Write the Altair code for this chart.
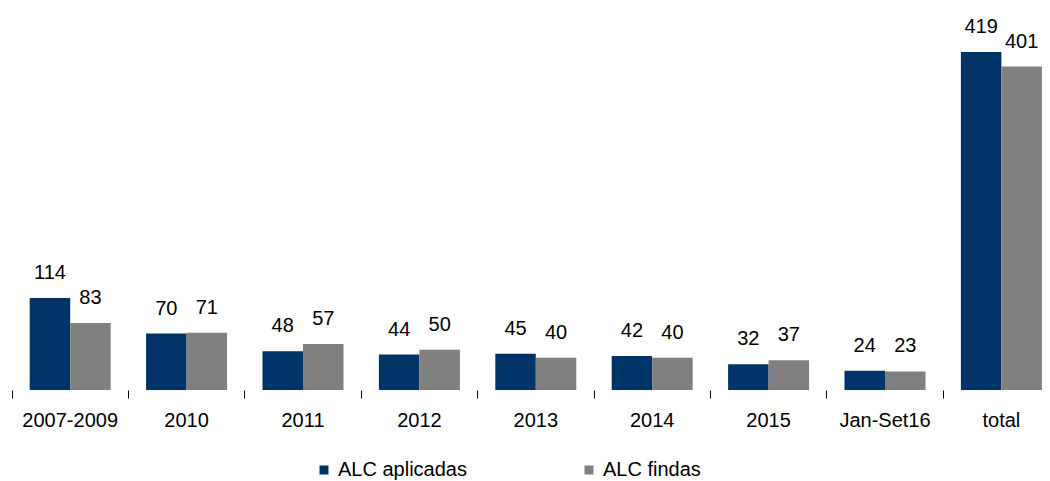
import altair as alt
import pandas as pd

categories = ["2007-2009", "2010", "2011", "2012", "2013", "2014", "2015", "Jan-Set16", "total"]
series_names = ["ALC aplicadas", "ALC findas"]
aplicadas = [114, 70, 48, 44, 45, 42, 32, 24, 419]
findas = [83, 71, 57, 50, 40, 40, 37, 23, 401]
colors = ["#003366", "#808080"]

rows = []
for c, a, f in zip(categories, aplicadas, findas):
    rows.append({"cat": c, "serie": series_names[0], "valor": a})
    rows.append({"cat": c, "serie": series_names[1], "valor": f})
df = pd.DataFrame(rows)

FONT = "Liberation Sans"

x_enc = alt.X(
    "cat:N",
    sort=categories,
    title=None,
    scale=alt.Scale(range=[0, 1047.6], paddingInner=0, paddingOuter=0, round=False),
    axis=alt.Axis(
        labelFontSize=20, labelColor="#000000", labelFont=FONT, labelAngle=0,
        domain=False, ticks=True, tickColor="#000000", tickSize=8, tickWidth=1,
        bandPosition=0, labelPadding=12, grid=False,
    ),
)
xo_enc = alt.XOffset(
    "serie:N", sort=series_names,
    scale=alt.Scale(paddingInner=0, paddingOuter=0.437, round=False),
)
y_enc = alt.Y(
    "valor:Q", title=None,
    scale=alt.Scale(domain=[0, 450], nice=False, zero=True),
    axis=None,
)

bars = alt.Chart(df).mark_bar().encode(
    x=x_enc,
    xOffset=xo_enc,
    y=y_enc,
    color=alt.Color(
        "serie:N",
        sort=series_names,
        scale=alt.Scale(domain=series_names, range=colors),
        legend=alt.Legend(
            title=None, orient="none", direction="horizontal",
            legendX=302, legendY=433,
            symbolType="square", symbolSize=81, symbolStrokeWidth=0,
            labelFontSize=20, labelFont=FONT, labelColor="#000000",
            labelOffset=4, columnPadding=112,
        ),
    ),
)

labels = alt.Chart(df).mark_text(
    fontSize=20, font=FONT, color="#000000", dy=-19, baseline="alphabetic",
).encode(
    x=alt.X("cat:N", sort=categories),
    xOffset=alt.XOffset("serie:N", sort=series_names),
    y=alt.Y("valor:Q", axis=None),
    text="valor:Q",
)

chart = (bars + labels).properties(
    width=1030,
    height=363,
    background="#ffffff",
    autosize=alt.AutoSizeParams(type="none"),
    padding={"left": 4, "right": 0, "top": 19, "bottom": 91},
).configure_view(stroke="transparent", strokeWidth=0)

chart.save("out.html", embed_options={"renderer": "svg", "actions": False})
